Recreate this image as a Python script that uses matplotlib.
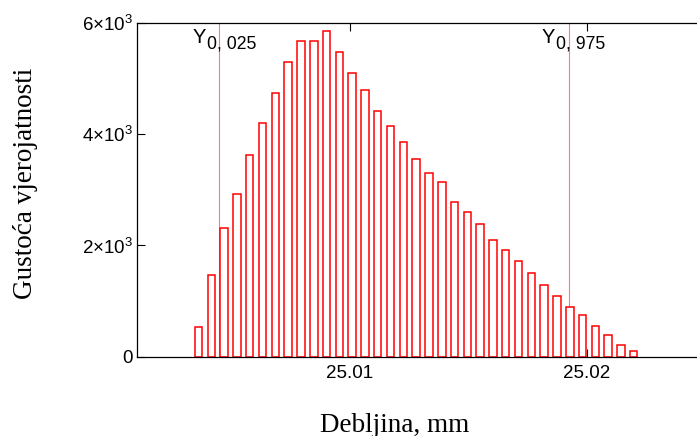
import numpy as np
import matplotlib.pyplot as plt

plt.rcParams['font.family'] = ['Liberation Sans', 'DejaVu Sans']
plt.rcParams['mathtext.fontset'] = 'custom'
plt.rcParams['mathtext.rm'] = 'Liberation Sans'
plt.rcParams['mathtext.it'] = 'Liberation Sans:italic'

# bin centres (mm) and probability density of each bin
thickness = [25.00360, 25.00414, 25.00468, 25.00522, 25.00576, 25.00630, 25.00685,
             25.00739, 25.00793, 25.00847, 25.00901, 25.00955, 25.01009, 25.01063,
             25.01117, 25.01171, 25.01226, 25.01280, 25.01334, 25.01388, 25.01442,
             25.01496, 25.01550, 25.01604, 25.01658, 25.01712, 25.01767, 25.01821,
             25.01875, 25.01929, 25.01983, 25.02037, 25.02091, 25.02145, 25.02199]
density = [542, 1463, 2307, 2921, 3626, 4207, 4733, 5303, 5685, 5685, 5853, 5474,
           5106, 4791, 4423, 4155, 3866, 3550, 3306, 3138, 2773, 2605, 2379, 2096,
           1922, 1729, 1507, 1286, 1097, 898, 753, 560, 392, 217, 103]

# 2.5% and 97.5% quantiles
quantiles = [25.00448, 25.01924]
quantile_subs = ['0, 025', '0, 975']

x_ticks = [25.01, 25.02]
x_ticklabels = ['25.01', '25.02']
y_ticks = [0, 2000, 4000, 6000]
y_ticklabels = ['0', r'$\mathregular{2{\times}10^3}$', r'$\mathregular{4{\times}10^3}$',
                r'$\mathregular{6{\times}10^3}$']

fig = plt.figure(figsize=(6.97, 4.36), dpi=100)
ax = fig.add_axes([0.1966, 0.1819, 0.8147, 0.7653])

for q, sub in zip(quantiles, quantile_subs):
  ax.axvline(q, color='#ff7a7a', linewidth=0.8, zorder=1)
  ax.annotate('Y', xy=(q, 1), xycoords=('data', 'axes fraction'),
              xytext=(-19.1, -14.6), textcoords='offset points',
              ha='left', va='baseline', fontsize=14.5)
  ax.annotate(sub, xy=(q, 1), xycoords=('data', 'axes fraction'),
              xytext=(-8.8, -18.2), textcoords='offset points',
              ha='left', va='baseline', fontsize=12.7)

ax.bar(thickness, density, width=0.00032, facecolor='white', edgecolor='red',
       linewidth=1.1, zorder=2)

ax.set_xlim(25.001, 25.025)
ax.set_ylim(0, 6000)
ax.set_xticks(x_ticks)
ax.set_xticklabels(x_ticklabels)
ax.set_yticks(y_ticks)
ax.set_yticklabels(y_ticklabels)
ax.tick_params(direction='in', top=True, right=True, length=6, width=0.8,
               labelsize=13.5)
ax.tick_params(axis='x', pad=6)
ax.tick_params(axis='y', pad=3)
for s in ax.spines.values():
  s.set_linewidth(0.9)

ax.set_xlabel('Debljina, mm', family='Liberation Serif', fontsize=19.5)
ax.xaxis.set_label_coords(0.454, -0.2257)
ax.xaxis.label.set_va('baseline')
ax.set_ylabel('Gustoća vjerojatnosti', family='Liberation Serif', fontsize=19.5)
ax.yaxis.set_label_coords(-0.1744, 0.519)

fig.savefig('out.png', dpi=100)
